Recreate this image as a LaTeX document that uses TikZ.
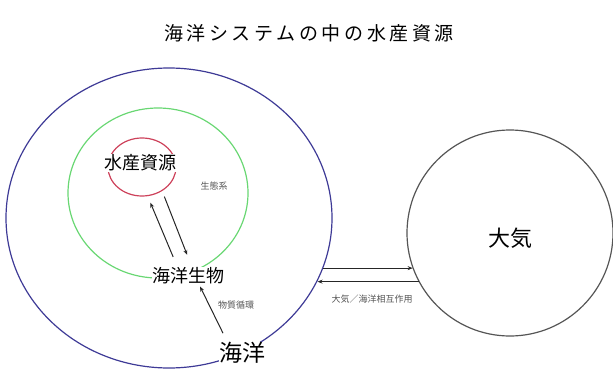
\documentclass[tikz,border=0pt]{standalone}
\usepackage{fontspec}
\newfontfamily\jp{Noto Sans CJK JP}
\newfontfamily\jptitle[LetterSpace=19]{Noto Sans CJK JP}
\usetikzlibrary{shapes.geometric, arrows.meta}

\definecolor{oceanblue}{RGB}{62,58,150}
\definecolor{ecogreen}{RGB}{105,215,115}
\definecolor{fishred}{RGB}{205,65,90}
\definecolor{airgray}{RGB}{85,85,85}

\tikzstyle{ring} = [ellipse, draw, inner sep = 0pt, line width = 1.2pt]
\tikzstyle{biglabel} = [fill = white, inner sep = 0.5pt, font = \jp\fontsize{18}{18}\selectfont]
\tikzstyle{note} = [text = airgray, inner sep = 0pt, font = \jp\fontsize{9}{9}\selectfont]
\tikzstyle{flow} = [-{Stealth[length = 5pt, width = 4pt]}, line width = 1pt, draw = black!85]

\begin{document}
\begin{tikzpicture}[x = 1pt, y = -1pt]
  \useasboundingbox (0, 0) rectangle (613, 369);
  \node (title) at (309, 33) {\jptitle\fontsize{19}{19}\selectfont 海洋システムの中の水産資源};
  % circles
  \node[ring, draw = oceanblue, minimum width = 326pt, minimum height = 300pt] (ocean) at (169, 218) {};
  \node[ring, draw = ecogreen, minimum width = 180pt, minimum height = 170pt] (eco) at (158, 193) {};
  \node[ring, draw = fishred, minimum width = 68pt, minimum height = 58pt] (fish) at (142, 167) {};
  \node[ring, draw = airgray, minimum width = 206pt, minimum height = 206pt] (air) at (510, 233) {};
  % labels
  \node[biglabel] (fishlbl) at (140, 163) {水産資源};
  \node[biglabel] (life) at (188, 276) {海洋生物};
  \node[biglabel, font = \jp\fontsize{23}{23}\selectfont] (sea) at (242, 353) {海洋};
  \node[font = \jp\fontsize{22}{22}\selectfont] (airlbl) at (510, 238) {大気};
  \foreach \name/\x/\y/\txt in {ecolbl/214/186/生態系, cycle/236/305/物質循環, inter/372/299/大気／海洋相互作用} {
    \node[note] (\name) at (\x, \y) {\txt};
  }
  % arrows
  \draw[flow, shorten < = 11pt, shorten > = 7pt] ([xshift = -10.6pt]life.north) -- (fish.-79);
  \draw[flow, shorten < = 6pt, shorten > = 13pt] (fish.-50) -- ([xshift = 3.9pt]life.north);
  \draw[flow, shorten < = 9.5pt, shorten > = 1.7pt] ([xshift = -14.8pt]sea.north) -- ([xshift = 11.3pt]life.south);
  \draw[flow] (ocean.-18) -- (ocean.-18 -| air.200);
  \draw[flow] (air.208) -- (air.208 -| ocean.-23);
\end{tikzpicture}
\end{document}
